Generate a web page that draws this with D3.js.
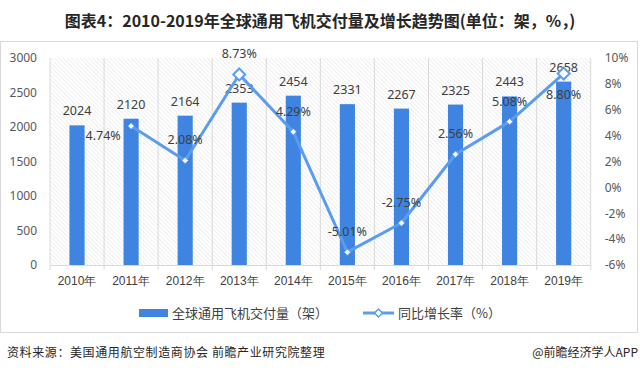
<!DOCTYPE html>
<html>
<head>
<meta charset="utf-8">
<script src="https://cdn.jsdelivr.net/npm/d3@7"></script>
<style>
  body { margin: 0; background: #fff; }
  svg { display: block; font-family: "Noto Sans CJK SC", "Noto Sans", sans-serif; }
</style>
</head>
<body>
<script>
// chart values
var years = ["2010年", "2011年", "2012年", "2013年", "2014年", "2015年", "2016年", "2017年", "2018年", "2019年"];
var deliveries = [2024, 2120, 2164, 2353, 2454, 2331, 2267, 2325, 2443, 2658];
var growth = [null, 4.74, 2.08, 8.73, 4.29, -5.01, -2.75, 2.56, 5.08, 8.80];
var leftTicks = [0, 500, 1000, 1500, 2000, 2500, 3000];
var rightTicks = [-6, -4, -2, 0, 2, 4, 6, 8, 10];

// where each growth label sits relative to its marker
var growthLabelPos = [null, "left", "above", "above", "above", "above", "above", "above", "above", "below"];

var W = 640, H = 371;
var barColor = "#3e84e0", lineColor = "#5c9cef", textColor = "#404040";

var svg = d3.select("body").append("svg").attr("width", W).attr("height", H);

var defs = svg.append("defs");
var pat = defs.append("pattern").attr("id", "hatch")
	.attr("patternUnits", "userSpaceOnUse")
	.attr("width", 3).attr("height", 3)
	.attr("patternTransform", "rotate(-45)");
pat.append("line").attr("x1", 0).attr("y1", 0).attr("x2", 0).attr("y2", 3)
	.attr("stroke", "#e0e0e0").attr("stroke-width", 1);

// outer frame
svg.append("rect").attr("x", 0.5).attr("y", 41.5).attr("width", 637).attr("height", 291)
	.attr("fill", "none").attr("stroke", "#d9d9d9");

// title
svg.append("text").attr("x", 320).attr("y", 27).attr("text-anchor", "middle")
	.attr("font-size", 16).attr("font-weight", "bold").attr("fill", "#262626")
	.text("图表4：2010-2019年全球通用飞机交付量及增长趋势图(单位：架，%，)");

var plot = {left: 50, right: 590.7, top: 58, bottom: 265};

var x = d3.scaleBand().domain(years).range([plot.left, plot.right]).padding(0);
var yL = d3.scaleLinear().domain([0, 3000]).range([plot.bottom, plot.top]);
var yR = d3.scaleLinear().domain([-6, 10]).range([plot.bottom, plot.top]);

// hatched plot background
svg.append("rect").attr("x", plot.left).attr("y", plot.top)
	.attr("width", plot.right - plot.left).attr("height", plot.bottom - plot.top)
	.attr("fill", "url(#hatch)");

// vertical category grid lines
var bounds = years.map(function(d) { return x(d); }).concat([plot.right]);
svg.append("g").selectAll("line").data(bounds).join("line")
	.attr("x1", function(d) { return d; }).attr("x2", function(d) { return d; })
	.attr("y1", plot.top).attr("y2", plot.bottom + 5)
	.attr("stroke", "#d9d9d9").attr("stroke-width", 1);

// left axis
var axL = svg.append("g").attr("transform", "translate(" + plot.left + ",0)")
	.call(d3.axisLeft(yL).tickValues(leftTicks).tickSize(0).tickPadding(13).tickFormat(d3.format("d")));
axL.select(".domain").remove();
axL.selectAll("text").attr("font-size", 12).attr("fill", "#595959").attr("font-family", "Noto Sans, sans-serif");

// right axis
var axR = svg.append("g").attr("transform", "translate(" + plot.right + ",0)")
	.call(d3.axisRight(yR).tickValues(rightTicks).tickSize(0).tickPadding(14)
		.tickFormat(function(d) { return d + "%"; }));
axR.select(".domain").remove();
axR.selectAll("text").attr("font-size", 12).attr("fill", "#595959").attr("font-family", "Noto Sans, sans-serif");

// bottom axis
var axB = svg.append("g").attr("transform", "translate(0," + plot.bottom + ")")
	.call(d3.axisBottom(x).tickSize(0).tickPadding(11));
axB.select(".domain").attr("stroke", "#d9d9d9");
axB.selectAll("text").attr("font-size", 12).attr("fill", textColor);

// bars
var barW = x.bandwidth() * 0.28;
svg.append("g").selectAll("rect").data(deliveries).join("rect")
	.attr("x", function(d, i) { return x(years[i]) + (x.bandwidth() - barW) / 2; })
	.attr("y", function(d) { return yL(d); })
	.attr("width", barW)
	.attr("height", function(d) { return yL(0) - yL(d); })
	.attr("fill", barColor);

// bar labels
svg.append("g").selectAll("text").data(deliveries).join("text")
	.attr("x", function(d, i) { return x(years[i]) + x.bandwidth() / 2; })
	.attr("y", function(d) { return yL(d) - 10; })
	.attr("text-anchor", "middle").attr("font-size", 12.5).attr("fill", textColor)
	.attr("font-family", "Noto Sans, sans-serif")
	.text(function(d) { return d; });

// growth line
var pts = growth.map(function(v, i) { return {v: v, i: i}; }).filter(function(p) { return p.v !== null; });
var cx = function(p) { return x(years[p.i]) + x.bandwidth() / 2; };
var line = d3.line().x(cx).y(function(p) { return yR(p.v); });
svg.append("path").datum(pts).attr("d", line)
	.attr("fill", "none").attr("stroke", lineColor).attr("stroke-width", 3).attr("stroke-linejoin", "round");

// markers: peaks drawn as larger hollow diamonds
var big = function(p) { return p.i === 3 || p.i === 9; };
svg.append("g").selectAll("path").data(pts).join("path")
	.attr("transform", function(p) { return "translate(" + cx(p) + "," + yR(p.v) + ")"; })
	.attr("d", function(p) { return d3.symbol().type(d3.symbolDiamond2).size(big(p) ? 90 : 26)(); })
	.attr("fill", "#fff")
	.attr("stroke", lineColor)
	.attr("stroke-width", function(p) { return big(p) ? 2 : 0.8; });

// growth labels
svg.append("g").selectAll("text").data(pts).join("text")
	.attr("x", function(p) { return cx(p) + (growthLabelPos[p.i] === "left" ? -28 : 0); })
	.attr("y", function(p) {
		var pos = growthLabelPos[p.i];
		if (pos === "left") return yR(p.v) + 14;
		if (pos === "below") return yR(p.v) + 25;
		return yR(p.v) - 16;
	})
	.attr("text-anchor", "middle").attr("font-size", 12.5).attr("fill", textColor)
	.attr("font-family", "Noto Sans, sans-serif")
	.text(function(p) { return p.v.toFixed(2) + "%"; });

// legend
var lg = svg.append("g").attr("transform", "translate(0,313)");
lg.append("rect").attr("x", 139).attr("y", -4).attr("width", 29).attr("height", 8).attr("fill", barColor);
lg.append("text").attr("x", 172).attr("y", 5).attr("font-size", 13).attr("fill", textColor)
	.text("全球通用飞机交付量（架）");
lg.append("line").attr("x1", 363).attr("x2", 394).attr("y1", 0).attr("y2", 0)
	.attr("stroke", lineColor).attr("stroke-width", 3);
lg.append("path").attr("transform", "translate(378.5,0)")
	.attr("d", d3.symbol().type(d3.symbolDiamond2).size(40)())
	.attr("fill", "#fff").attr("stroke", lineColor).attr("stroke-width", 1.5);
lg.append("text").attr("x", 398).attr("y", 5).attr("font-size", 13).attr("fill", textColor)
	.text("同比增长率（%）");

// footer
svg.append("text").attr("x", 7).attr("y", 357).attr("font-size", 12).attr("fill", "#262626")
	.attr("letter-spacing", 0.6)
	.text("资料来源：美国通用航空制造商协会 前瞻产业研究院整理");
svg.append("text").attr("x", 638).attr("y", 357).attr("text-anchor", "end")
	.attr("font-size", 12).attr("fill", "#262626")
	.text("@前瞻经济学人APP");
</script>
</body>
</html>
